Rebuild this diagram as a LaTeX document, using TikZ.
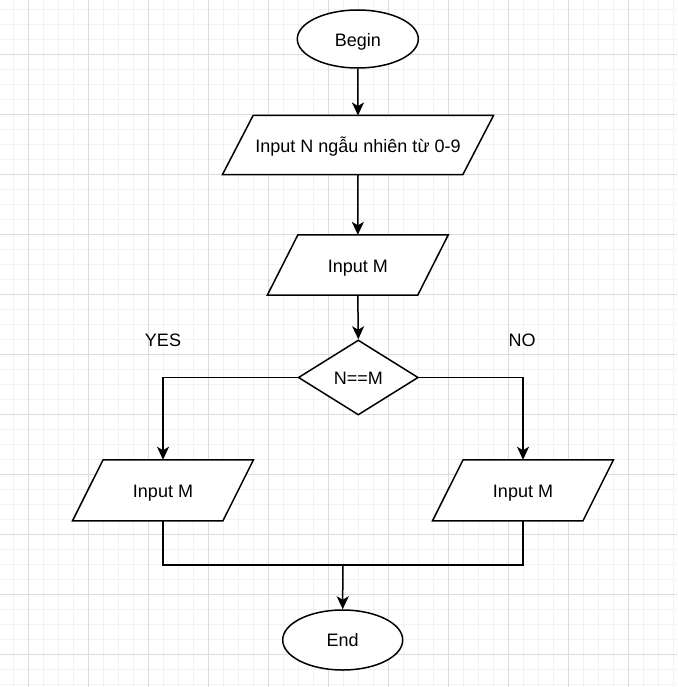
\documentclass[tikz,border=0pt]{standalone}
\usepackage{fontspec}
\setmainfont{Liberation Sans}
\usetikzlibrary{shapes.geometric,arrows.meta}
\definecolor{gridminor}{HTML}{F2F2F2}
\definecolor{gridmajor}{HTML}{DCDCDC}
\begin{document}
\begin{tikzpicture}[x=1pt,y=-1pt,
  every node/.style={font=\fontsize{18}{21}\selectfont, text=black, text height=12.9pt, text depth=0pt},
  outline/.style={draw=black, line width=1.5pt, line join=miter},
  term/.style={outline, ellipse, inner sep=0pt, fill=white},
  iobox/.style={inner sep=0pt, minimum height=#1},
  decision/.style={outline, diamond, inner sep=0pt, fill=white, minimum width=120pt, minimum height=75pt},
  flow/.style={draw=black, line width=1.5pt, line join=miter},
  arrow/.style={flow, -{Stealth[length=13pt,width=12pt,inset=3.5pt]}},
  lbl/.style={inner sep=0pt}
]
% canvas and background grid
\useasboundingbox (0,0) rectangle (677,687);
\fill[white] (0,0) rectangle (677,687);
\begin{scope}
  \clip (0,0) rectangle (677,687);
  \foreach \k in {-1,...,43} \draw[gridminor, line width=1pt] ({28.3+15*\k},0) -- ({28.3+15*\k},687);
  \foreach \k in {0,...,45} \draw[gridminor, line width=1pt] (0,{9.3+15*\k}) -- (677,{9.3+15*\k});
  \foreach \k in {0,...,10} \draw[gridmajor, line width=1pt] ({28.3+60*\k},0) -- ({28.3+60*\k},687);
  \foreach \k in {0,...,10} \draw[gridmajor, line width=1pt] (0,{54.3+60*\k}) -- (677,{54.3+60*\k});
\end{scope}

% flowchart nodes
\node[term, minimum width=121pt, minimum height=58pt] (begin) at (357.8,39) {};
\node at (357.8,40.5) {Begin};

\node[iobox=58.6pt, minimum width=240pt] (inN) at (358,145) {};
\node[iobox=60pt, minimum width=150pt] (inM) at (357.8,265) {};
\node[decision] (dec) at (358.3,377.5) {};
\node[iobox=60.7pt, minimum width=150pt] (inL) at (163,490.3) {};
\node[iobox=60.7pt, minimum width=150pt] (inR) at (523,490.3) {};

% parallelogram outlines for the input boxes
\foreach \n in {inN,inM,inL,inR}
  \draw[outline, fill=white] ([xshift=-15.3pt]\n.south west) -- ([xshift=15.3pt]\n.north west)
    -- ([xshift=15.3pt]\n.north east) -- ([xshift=-15.3pt]\n.south east) -- cycle;

\node at ([yshift=-1.5pt]inN.center) {Input N ngẫu nhiên từ 0-9};
\node at ([yshift=-1pt]inM.center) {Input M};
\node at ([yshift=-0.5pt]dec.center) {N==M};
\node at ([yshift=-1pt]inL.center) {Input M};
\node at ([yshift=-1pt]inR.center) {Input M};

\node[term, minimum width=120pt, minimum height=60pt] (end) at (342.7,640) {End};

% branch labels
\node[lbl] (yes) at (163,340.5) {YES};
\node[lbl] (no) at (522,340.5) {NO};

% connectors
\coordinate (join) at (342.8,565);
\draw[arrow] (begin.south) -- (inN.north);
\draw[arrow] (inN.south) -- (inM.north);
\draw[arrow] (inM.south) -- (dec.north);
\draw[arrow] (dec.west) -| (inL.north);
\draw[arrow] (dec.east) -| (inR.north);
\draw[flow] (inL.south) |- (join);
\draw[flow] (inR.south) |- (join);
\draw[arrow] (join) -- (end.north);
\end{tikzpicture}
\end{document}
